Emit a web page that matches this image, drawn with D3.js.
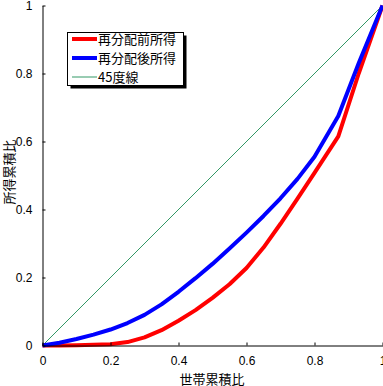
<!DOCTYPE html>
<html><head><meta charset="utf-8">
<script src="https://cdn.jsdelivr.net/npm/d3@7"></script>
<style>body{margin:0;background:#fff}svg{display:block}</style>
</head><body>
<svg id="c" width="383" height="386"></svg>
<script>
const xs = [0, 0.05, 0.1, 0.15, 0.2, 0.25, 0.3, 0.35, 0.4, 0.45, 0.5, 0.55, 0.6, 0.65, 0.7, 0.75, 0.8, 0.87, 0.93, 1];
const before = [0, 0, 0.001, 0.002, 0.004, 0.01, 0.024, 0.045, 0.073, 0.104, 0.14, 0.18, 0.228, 0.288, 0.358, 0.432, 0.508, 0.615, 0.8, 1];
const after = [0, 0.008, 0.019, 0.032, 0.047, 0.066, 0.09, 0.121, 0.158, 0.198, 0.24, 0.285, 0.332, 0.381, 0.433, 0.49, 0.555, 0.675, 0.83, 1];
const diag = [0, 1];
const xTicks = [0, 0.2, 0.4, 0.6, 0.8, 1];
const yTicks = [0, 0.2, 0.4, 0.6, 0.8, 1];
const seriesNames = ["再分配前所得", "再分配後所得", "45度線"];
const colors = ["#ff0000", "#0000ff", "#339966"];
const xTitle = "世帯累積比";
const yTitle = "所得累積比";

const svg = d3.select("#c");
const x = d3.scaleLinear().domain([0, 1]).range([42.5, 382.5]);
const y = d3.scaleLinear().domain([0, 1]).range([345.5, 5.5]);
const num = "'Liberation Sans', Arial, sans-serif";
const jp = "'Noto Sans CJK JP', sans-serif";

// diagonal
svg.append("path")
  .attr("d", d3.line().x(d => x(d)).y(d => y(d))(diag))
  .attr("stroke", colors[2]).attr("stroke-width", 1).attr("fill", "none");

const line = d3.line().x(d => x(d[0])).y(d => y(d[1]));
svg.append("path").attr("d", line(xs.map((v, i) => [v, before[i]])))
  .attr("stroke", colors[0]).attr("stroke-width", 4).attr("fill", "none").attr("stroke-linejoin", "round");
svg.append("path").attr("d", line(xs.map((v, i) => [v, after[i]])))
  .attr("stroke", colors[1]).attr("stroke-width", 4).attr("fill", "none").attr("stroke-linejoin", "round");

// axes
const xa = svg.append("g").attr("transform", "translate(0,345.5)")
  .call(d3.axisBottom(x).tickValues(xTicks).tickSizeInner(-3).tickSizeOuter(0).tickPadding(12).tickFormat(d3.format("~g")));
const ya = svg.append("g").attr("transform", "translate(42.5,0)")
  .call(d3.axisLeft(y).tickValues(yTicks).tickSizeInner(-3).tickSizeOuter(0).tickPadding(10).tickFormat(d3.format("~g")));
[xa, ya].forEach(g => {
  g.select(".domain").attr("stroke", "#000");
  g.selectAll(".tick line").attr("stroke", "#000");
  g.selectAll("text").attr("font-family", num).attr("font-size", 12).attr("fill", "#000");
});
xa.selectAll("text").attr("dy", "0.71em").attr("y", 11);

svg.append("text").text(xTitle).attr("x", 212).attr("y", 384)
  .attr("text-anchor", "middle").attr("font-family", jp).attr("font-size", 13);
svg.append("text").text(yTitle).attr("transform", "translate(14,172) rotate(-90)")
  .attr("text-anchor", "middle").attr("font-family", jp).attr("font-size", 13);

// legend
const lg = svg.append("g");
lg.append("rect").attr("x", 70.5).attr("y", 35.5).attr("width", 116).attr("height", 53).attr("fill", "#000");
lg.append("rect").attr("x", 67.5).attr("y", 32.5).attr("width", 116).attr("height", 53).attr("fill", "#fff").attr("stroke", "#000");
const ly = [39, 58, 77];
const lw = [4, 4, 1];
seriesNames.forEach((n, i) => {
  lg.append("line").attr("x1", 72).attr("x2", 97).attr("y1", ly[i]).attr("y2", ly[i])
    .attr("stroke", colors[i]).attr("stroke-width", lw[i]);
  lg.append("text").text(n).attr("x", 98).attr("y", ly[i]).attr("dy", "0.36em")
    .attr("font-family", jp).attr("font-size", 13).attr("fill", "#000");
});
</script>
</body></html>
